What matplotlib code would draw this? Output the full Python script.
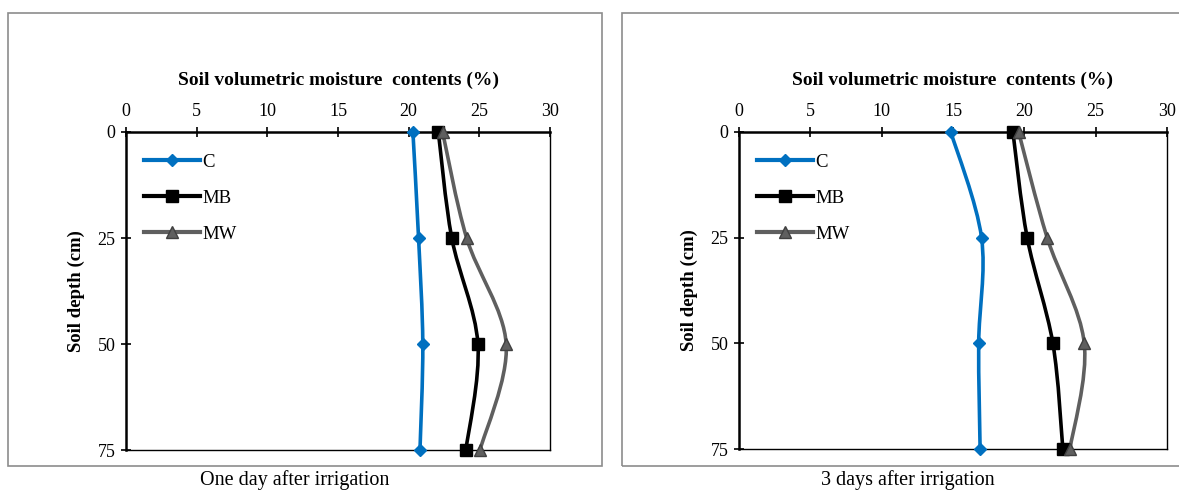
import numpy as np
import matplotlib.pyplot as plt
from matplotlib.path import Path
from matplotlib.patches import PathPatch, Rectangle
from matplotlib.lines import Line2D

plt.rcParams['font.family'] = ['Liberation Serif', 'DejaVu Serif']

# Данные
depth = [0, 25, 50, 75]
series = ['C', 'MB', 'MW']
day1_C = [20.3, 20.7, 21.0, 20.8]
day1_MB = [22.1, 23.05, 24.9, 24.05]
day1_MW = [22.4, 24.1, 26.9, 25.05]
day3_C = [14.85, 17.0, 16.8, 16.9]
day3_MB = [19.2, 20.2, 22.0, 22.7]
day3_MW = [19.6, 21.6, 24.2, 23.2]
xticks = [0, 5, 10, 15, 20, 25, 30]
yticks = [0, 25, 50, 75]
captions = ['One day after irrigation', '3 days after irrigation']

colors = {'C': '#0070C0', 'MB': '#000000', 'MW': '#5f5f5f'}
markers = {'C': 'D', 'MB': 's', 'MW': '^'}
msizes = {'C': 6, 'MB': 8, 'MW': 8}
medges = {'C': '#0070C0', 'MB': '#000000', 'MW': '#404040'}


def smooth_path(x, y):
    # сглаженная линия как в Excel (Catmull-Rom -> Безье)
    p = np.column_stack([x, y]).astype(float)
    pts = np.vstack([p[0], p, p[-1]])
    verts = [p[0]]
    codes = [Path.MOVETO]
    for i in range(1, len(pts) - 2):
        p0, p1, p2, p3 = pts[i - 1], pts[i], pts[i + 1], pts[i + 2]
        verts += [p1 + (p2 - p0) / 6, p2 - (p3 - p1) / 6, p2]
        codes += [Path.CURVE4] * 3
    return Path(verts, codes)


W, H = 1179, 490
fig = plt.figure(figsize=(W / 100, H / 100), dpi=100)

# рамки диаграмм
for x0, w in [(8, 594), (622, 600)]:
    fig.patches.append(Rectangle((x0 / W, 1 - 466 / H), w / W, 453 / H,
                                 transform=fig.transFigure, fill=False,
                                 edgecolor='#8c8c8c', lw=1.2))

axes_pos = [[126 / W, 1 - 450 / H, 424 / W, 318 / H],
            [739 / W, 1 - 449 / H, 428 / W, 317 / H]]
data = [[day1_C, day1_MB, day1_MW], [day3_C, day3_MB, day3_MW]]
cap_x = [295, 908]

for k in range(2):
    ax = fig.add_axes(axes_pos[k])
    for name, vals in zip(series, data[k]):
        ax.add_patch(PathPatch(smooth_path(vals, depth), facecolor='none',
                               edgecolor=colors[name], lw=2.6,
                               capstyle='round', joinstyle='round', zorder=2))
        ax.plot(vals, depth, linestyle='none', marker=markers[name],
                ms=msizes[name], color=colors[name],
                markeredgecolor=medges[name], clip_on=False, zorder=3)
    ax.set_xlim(0, 30)
    ax.set_ylim(75, 0)
    ax.xaxis.tick_top()
    ax.xaxis.set_label_position('top')
    ax.set_xticks(xticks)
    ax.set_yticks(yticks)
    ax.tick_params(direction='inout', length=7, width=1.2, labelsize=13,
                   pad=4)
    ax.tick_params(axis='x', pad=5)
    ax.spines['top'].set_linewidth(1.8)
    ax.spines['left'].set_linewidth(1.8)
    ax.spines['right'].set_linewidth(1)
    ax.spines['bottom'].set_linewidth(1)
    ax.set_xlabel('Soil volumetric moisture  contents (%)', fontsize=14,
                  fontweight='bold', labelpad=13)
    ax.set_ylabel('Soil depth (cm)', fontsize=13.5, fontweight='bold',
                  labelpad=9)

    handles = [Line2D([], [], color=colors[n], lw=3, marker=markers[n],
                      ms=msizes[n], markeredgecolor=medges[n])
               for n in series]
    ax.legend(handles, series, loc='upper left', bbox_to_anchor=(0.003, 0.985),
              frameon=False, handlelength=3.0, handletextpad=0.1,
              labelspacing=1.0, prop={'size': 13.5})

    fig.text(cap_x[k] / W, 1 - 480 / H, captions[k], ha='center',
             va='center', fontsize=14.5)

plt.savefig('out.png', dpi=100)
